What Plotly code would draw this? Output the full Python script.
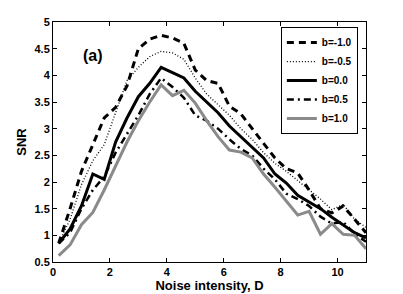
import plotly.graph_objects as go

D = [0.2, 0.6, 1.0, 1.4, 1.8, 2.2, 2.6, 3.0, 3.4, 3.8, 4.2, 4.6, 5.0, 5.4,
     5.8, 6.2, 6.6, 7.0, 7.4, 7.8, 8.2, 8.6, 9.0, 9.4, 9.8, 10.2, 10.6, 11.0]

snr_bm10 = [0.85, 1.5, 2.2, 2.7, 3.2, 3.4, 3.8, 4.5, 4.68, 4.75, 4.7, 4.6, 4.1, 3.9,
            3.85, 3.42, 3.28, 3.0, 2.72, 2.45, 2.25, 2.17, 1.85, 1.5, 1.42, 1.55, 1.3, 1.05]
snr_bm05 = [0.85, 1.3, 1.95, 2.4, 2.7, 3.3, 3.9, 4.15, 4.35, 4.45, 4.42, 4.3, 3.95, 3.65,
            3.45, 3.25, 3.0, 2.8, 2.55, 2.35, 2.2, 2.03, 1.85, 1.68, 1.48, 1.58, 1.3, 1.15]
snr_b00 = [0.85, 1.12, 1.55, 2.15, 2.05, 2.75, 3.2, 3.6, 3.85, 4.15, 4.05, 3.95, 3.7, 3.5,
           3.3, 3.05, 2.85, 2.65, 2.45, 2.15, 1.98, 1.75, 1.63, 1.5, 1.34, 1.2, 1.05, 0.95]
snr_b05 = [0.85, 1.05, 1.5, 1.85, 2.1, 2.55, 2.9, 3.25, 3.65, 3.95, 3.78, 3.58, 3.25, 3.15,
           3.0, 2.8, 2.62, 2.5, 2.25, 2.05, 1.78, 1.68, 1.55, 1.35, 1.22, 1.25, 1.03, 0.88]
snr_b10 = [0.62, 0.82, 1.2, 1.43, 1.85, 2.3, 2.75, 3.15, 3.5, 3.82, 3.62, 3.72, 3.48, 3.15,
           2.85, 2.6, 2.56, 2.45, 2.15, 1.9, 1.65, 1.38, 1.45, 1.02, 1.22, 1.02, 1.0, 0.75]

x_ticks = [0, 2, 4, 6, 8, 10]
y_ticks = [0.5, 1, 1.5, 2, 2.5, 3, 3.5, 4, 4.5, 5]
y_tick_labels = ["0.5", "1", "1.5", "2", "2.5", "3", "3.5", "4", "4.5", "5"]

series = [
    ("b=-1.0", snr_bm10, dict(color="black", width=3, dash="7px,5px")),
    ("b=-0.5", snr_bm05, dict(color="black", width=1.3, dash="1px,2px")),
    ("b=0.0", snr_b00, dict(color="black", width=3)),
    ("b=0.5", snr_b05, dict(color="black", width=2.5, dash="7px,4px,2px,4px")),
    ("b=1.0", snr_b10, dict(color="#8a8a8a", width=3)),
]

fig = go.Figure()
for name, ys, line in series:
    fig.add_trace(go.Scatter(x=D, y=ys, mode="lines", name=name, line=line))

font_family = "Liberation Sans, Arial, sans-serif"
axis_common = dict(
    showline=True, linecolor="black", linewidth=1, mirror="ticks",
    ticks="inside", ticklen=4, tickcolor="black", tickwidth=1,
    showgrid=False, zeroline=False, automargin=False,
    tickfont=dict(family=font_family, size=11, color="black", weight="bold"),
)

# page body has an 8px margin, so the figure is sized/margined to land the
# plot area at the reference position
fig.update_layout(
    width=395, height=286,
    margin=dict(l=45, r=37, t=14, b=32),
    paper_bgcolor="white", plot_bgcolor="white",
    showlegend=True,
    legend=dict(
        x=0.974, y=0.979, xanchor="right", yanchor="top",
        bgcolor="white", bordercolor="black", borderwidth=1,
        font=dict(family=font_family, size=10, color="black", weight="bold"),
        tracegroupgap=0, itemwidth=30,
    ),
    xaxis=dict(range=[0, 11], tickvals=x_ticks,
               title=dict(text="Noise intensity, D", standoff=1,
                          font=dict(family=font_family, size=13, color="black", weight="bold")),
               **axis_common),
    yaxis=dict(range=[0.5, 5], tickvals=y_ticks, ticktext=y_tick_labels,
               title=dict(text="SNR", standoff=4,
                          font=dict(family=font_family, size=13, color="black", weight="bold")),
               **axis_common),
    annotations=[dict(x=1.4, y=4.38, xref="x", yref="y", text="(a)", showarrow=False,
                      font=dict(family=font_family, size=16, color="black", weight="bold"))],
)

fig.write_html("out.html")
